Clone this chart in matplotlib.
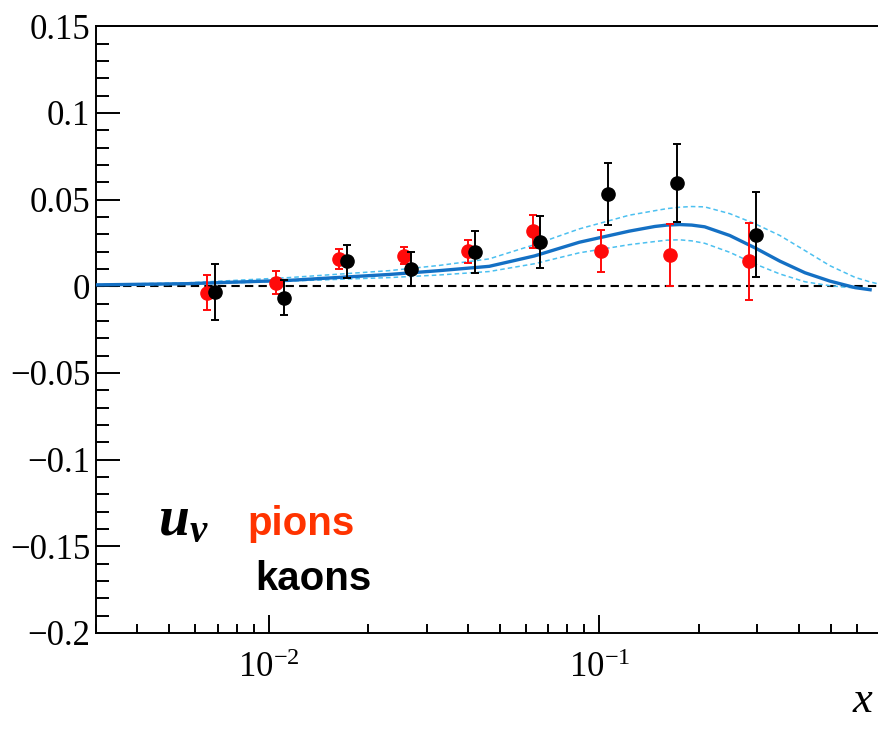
import matplotlib

matplotlib.use("Agg")
import matplotlib.pyplot as plt
from matplotlib.ticker import FuncFormatter, LogLocator, MultipleLocator, NullFormatter

# u_v valence distribution: central fit and uncertainty band
curve_x = [0.003, 0.0057, 0.0115, 0.0231, 0.0327, 0.0464, 0.0636, 0.0869, 0.123, 0.147,
           0.16, 0.1747, 0.19, 0.208, 0.2476, 0.295, 0.351, 0.418, 0.497, 0.593, 0.658]
curve_mid = [0.0008, 0.0015, 0.0034, 0.0068, 0.0090, 0.0115, 0.0175, 0.0254, 0.0318, 0.0345,
             0.0353, 0.0356, 0.0353, 0.0343, 0.0293, 0.0222, 0.0145, 0.0078, 0.0030, -0.0008,
             -0.0020]
band_x = curve_x + [0.70]
band_hi = [0.0010, 0.0020, 0.0050, 0.0090, 0.0120, 0.0158, 0.0240, 0.0331, 0.0410, 0.0436,
           0.0448, 0.0456, 0.0460, 0.0458, 0.0419, 0.0361, 0.0293, 0.0206, 0.0119, 0.0051,
           0.0025, 0.0013]
band_lo = [0.0006, 0.0011, 0.0030, 0.0050, 0.0065, 0.0085, 0.0130, 0.0193, 0.0240, 0.0258,
           0.0266, 0.0268, 0.0262, 0.0248, 0.0196, 0.0129, 0.0071, 0.0026, 0.0003, -0.0010,
           -0.0013]

# extracted points
pion_x = [0.0065, 0.01055, 0.0163, 0.0257, 0.0399, 0.0628, 0.101, 0.163, 0.283]
pion_y = [-0.0037, 0.0021, 0.0157, 0.0176, 0.0201, 0.0317, 0.0205, 0.0180, 0.0143]
pion_err = [0.010, 0.0068, 0.006, 0.005, 0.0068, 0.0095, 0.012, 0.0177, 0.022]

kaon_x = [0.00689, 0.0111, 0.01727, 0.027, 0.0421, 0.0661, 0.106, 0.171, 0.298]
kaon_y = [-0.0033, -0.0066, 0.0143, 0.0099, 0.0199, 0.0253, 0.0534, 0.0598, 0.0298]
kaon_err = [0.016, 0.010, 0.0093, 0.0097, 0.012, 0.015, 0.018, 0.0225, 0.0244]

plt.rcParams["font.family"] = ["Liberation Serif", "DejaVu Serif"]
plt.rcParams["mathtext.fontset"] = "custom"
plt.rcParams["mathtext.rm"] = "Liberation Serif"
plt.rcParams["mathtext.it"] = "Liberation Serif:italic"
plt.rcParams["mathtext.bf"] = "Liberation Serif:bold"
plt.rcParams["mathtext.bfit"] = "Liberation Serif:italic:bold"

fig = plt.figure(figsize=(8.79, 7.30), dpi=100)
ax = fig.add_axes([0.109, 0.133, 0.891, 0.831])

ax.axhline(0, color="black", lw=1.5, ls=(0, (4, 2.5)), zorder=1)
ax.plot(band_x, band_hi, color="#4cc0f0", lw=1.1, ls=(0, (3, 2)), zorder=2)
ax.plot(curve_x, band_lo, color="#4cc0f0", lw=1.1, ls=(0, (3, 2)), zorder=2)
ax.plot(curve_x, curve_mid, color="#1470c4", lw=2.4, zorder=3,
        solid_joinstyle="round")

ax.errorbar(pion_x, pion_y, yerr=pion_err, fmt="o", color="#ff0a0a", ms=9.5,
            elinewidth=1.4, capsize=2.8, capthick=1.4, zorder=4)
ax.errorbar(kaon_x, kaon_y, yerr=kaon_err, fmt="o", color="black", ms=9.5,
            elinewidth=1.4, capsize=2.8, capthick=1.4, zorder=5)

ax.set_xscale("log")
ax.set_xlim(0.003, 0.7)
ax.set_ylim(-0.2, 0.15)

ax.xaxis.set_major_locator(LogLocator(base=10))
ax.xaxis.set_minor_locator(LogLocator(base=10, subs=range(2, 10)))
ax.xaxis.set_minor_formatter(NullFormatter())
ax.yaxis.set_major_locator(MultipleLocator(0.05))
ax.yaxis.set_minor_locator(MultipleLocator(0.01))
ax.yaxis.set_major_formatter(
    FuncFormatter(lambda v, pos: f"{v:.2f}".rstrip("0").rstrip(".").replace("-", "\u2212")))

ax.spines["right"].set_visible(False)
for s in ("left", "bottom", "top"):
    ax.spines[s].set_linewidth(1.4)

ax.tick_params(axis="both", which="both", direction="in", width=1.4, labelsize=25,
               top=False, right=False)
ax.tick_params(axis="y", which="major", length=17, pad=4)
ax.tick_params(axis="y", which="minor", length=9)
ax.tick_params(axis="x", which="major", length=13, pad=14)
ax.tick_params(axis="x", which="minor", length=6.5)

fig.text(0.180, 0.267, r"$\mathbfit{u}_{\mathbfit{v}}$", fontsize=40, va="baseline")
fig.text(0.282, 0.267, "pions", fontsize=29, color="#ff3300", weight="bold",
         family="Liberation Sans", va="baseline")
fig.text(0.290, 0.192, "kaons", fontsize=29, color="black", weight="bold",
         family="Liberation Sans", va="baseline")
fig.text(0.981, 0.012, "x", fontsize=32, style="italic", ha="center", va="bottom")

fig.savefig("out.png", dpi=100)
